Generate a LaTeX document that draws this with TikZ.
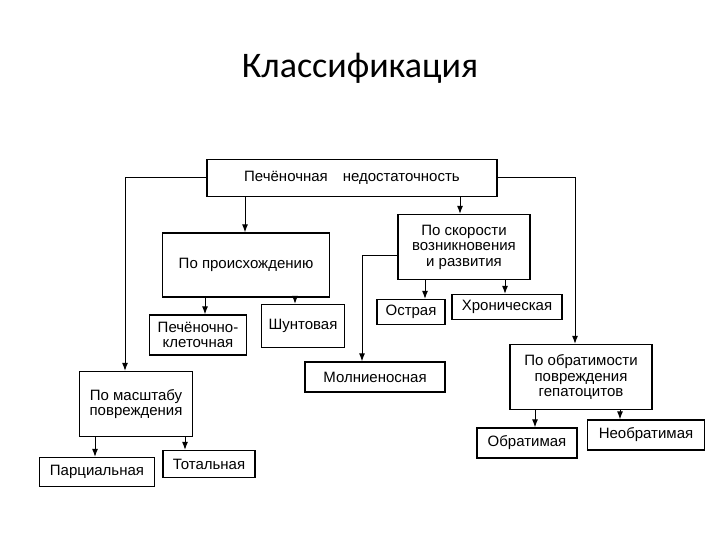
\documentclass[tikz,border=0pt]{standalone}
\usepackage{fontspec}
\setmainfont{Liberation Sans}
\newfontfamily\titlefont{Carlito}
\usetikzlibrary{arrows.meta}
\begin{document}
\begin{tikzpicture}[x=1pt,y=-1pt,
  bx/.style={draw,line width=1.3pt,align=center,font=\fontsize{15}{15.5}\selectfont,inner sep=1pt},
  ar/.style={line width=1pt,-{Latex[length=8pt,width=6pt]}}]
\useasboundingbox (0,0) rectangle (720,540);
\node[font=\titlefont\fontsize{36}{40}\selectfont] (title) at (360,68) {Классификация};
\node[bx,minimum width=290,minimum height=37] (top) at (352,178) {Печёночная\quad недостаточность};
\node[bx,minimum width=167,minimum height=64] (orig) at (246,265) {По происхождению};
\node[bx,minimum width=132,minimum height=65] (speed) at (464,247) {По скорости\\возникновения\\и развития};
\node[bx,minimum width=97,minimum height=40] (pk) at (198,335) {Печёночно-\\клеточная};
\node[bx,minimum width=83,minimum height=43] (sh) at (303,326) {Шунтовая};
\node[bx,minimum width=68,minimum height=25] (os) at (411,312) {Острая};
\node[bx,minimum width=110,minimum height=25] (hr) at (507,307) {Хроническая};
\node[bx,minimum width=140,minimum height=30] (ml) at (375,377) {Молниеносная};
\node[bx,minimum width=142,minimum height=65] (obr) at (581,377) {По обратимости\\повреждения\\гепатоцитов};
\node[bx,minimum width=113,minimum height=65] (ms) at (136,404) {По масштабу\\повреждения};
\node[bx,minimum width=115,minimum height=29] (pa) at (97,472) {Парциальная};
\node[bx,minimum width=92,minimum height=27] (to) at (209,464) {Тотальная};
\node[bx,minimum width=100,minimum height=30] (ob) at (527,443) {Обратимая};
\node[bx,minimum width=117,minimum height=30] (nob) at (646,435) {Необратимая};
\draw[ar] (top.west) -| (ms.north -| 125,0);
\draw[ar] (top.south -| 245,0) -- (orig.north -| 245,0);
\draw[ar] (top.south -| 460,0) -- (speed.north -| 460,0);
\draw[ar] (top.east) -| (obr.north -| 575,0);
\draw[ar] (orig.south -| 205,0) -- (pk.north -| 205,0);
\draw[ar] (orig.south -| 295,0) -- (sh.north -| 295,0);
\draw[ar] (speed.south -| 425,0) -- (os.north -| 425,0);
\draw[ar] (speed.south -| 505,0) -- (hr.north -| 505,0);
\draw[ar] (speed.west |- 0,255) -| (ml.north -| 362,0);
\draw[ar] (ms.south -| 95,0) -- (pa.north -| 95,0);
\draw[ar] (ms.south -| 185,0) -- (to.north -| 185,0);
\draw[ar] (obr.south -| 535,0) -- (ob.north -| 535,0);
\draw[ar] (obr.south -| 620,0) -- (nob.north -| 620,0);
\end{tikzpicture}
\end{document}
